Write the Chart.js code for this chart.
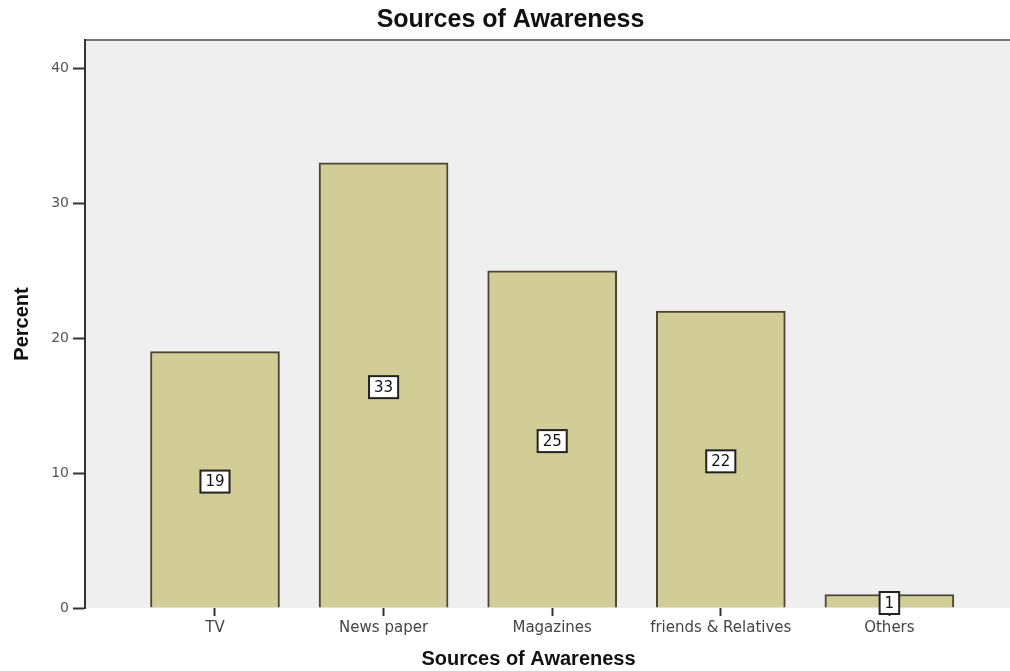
<!DOCTYPE html>
<html>
<head>
<meta charset="utf-8">
<title>Sources of Awareness</title>
<script src="https://cdn.jsdelivr.net/npm/chart.js@4.4.1/dist/chart.umd.min.js"></script>
<style>
  html, body { margin: 0; padding: 0; background: #ffffff; }
  canvas { display: block; }
</style>
</head>
<body>
<canvas id="chart" width="1010" height="671"></canvas>
<script>
// Survey results: share of respondents per source of awareness
const categories = ['TV', 'News paper', 'Magazines', 'friends & Relatives', 'Others'];
const percentValues = [19, 33, 25, 22, 1];
const yTickValues = [0, 10, 20, 30, 40];
const chartTitle = 'Sources of Awareness';

// Grey plot panel that runs out to the right edge, with a rule along its top,
// and the chart heading centred over the whole panel
const plotPanel = {
  id: 'plotPanel',
  beforeDraw(chart) {
    const { ctx, chartArea } = chart;
    ctx.save();
    ctx.fillStyle = '#efefef';
    ctx.fillRect(chartArea.left, chartArea.top, chart.width - chartArea.left, chartArea.bottom - chartArea.top);
    ctx.strokeStyle = '#777777';
    ctx.lineWidth = 2;
    ctx.beginPath();
    ctx.moveTo(chartArea.left, chartArea.top);
    ctx.lineTo(chart.width, chartArea.top);
    ctx.stroke();

    ctx.fillStyle = '#111111';
    ctx.font = 'bold 25px "Liberation Sans", Arial, sans-serif';
    ctx.textAlign = 'center';
    ctx.textBaseline = 'middle';
    ctx.fillText(chartTitle, (chartArea.left + chart.width) / 2 - 37, chartArea.top / 2);
    ctx.restore();
  }
};

// Boxed value label in the middle of each bar
const boxedLabels = {
  id: 'boxedLabels',
  afterDatasetsDraw(chart) {
    const { ctx } = chart;
    const meta = chart.getDatasetMeta(0);
    const values = chart.data.datasets[0].data;
    ctx.save();
    ctx.font = '15px "DejaVu Sans", sans-serif';
    ctx.textAlign = 'center';
    ctx.textBaseline = 'middle';
    meta.data.forEach((bar, i) => {
      const text = String(values[i].y);
      const cx = bar.x;
      const cy = (bar.y + bar.base) / 2 + 2;
      const w = ctx.measureText(text).width + 10;
      const h = 22;
      ctx.fillStyle = '#ffffff';
      ctx.fillRect(cx - w / 2, cy - h / 2, w, h);
      ctx.strokeStyle = '#222222';
      ctx.lineWidth = 2;
      ctx.strokeRect(cx - w / 2, cy - h / 2, w, h);
      ctx.fillStyle = '#111111';
      ctx.fillText(text, cx, cy + 1);
    });
    ctx.restore();
  }
};

new Chart(document.getElementById('chart'), {
  type: 'bar',
  data: {
    datasets: [{
      label: 'Percent',
      data: percentValues.map((v, i) => ({ x: i + 1, y: v })),
      backgroundColor: '#d2cd96',
      borderColor: '#4a4535',
      borderWidth: 2,
      borderSkipped: 'bottom',
      barThickness: 129
    }]
  },
  options: {
    responsive: false,
    animation: false,
    devicePixelRatio: 1,
    layout: { padding: { left: 0, right: 38, top: 40, bottom: 0 } },
    plugins: {
      legend: { display: false },
      tooltip: { enabled: false },
      title: { display: false }
    },
    scales: {
      x: {
        type: 'linear',
        min: 0.229,
        max: 5.49,
        offset: false,
        afterBuildTicks(scale) {
          scale.ticks = categories.map((_, i) => ({ value: i + 1 }));
        },
        afterFit(scale) { scale.height = 63; },
        border: { display: false },
        grid: { offset: false, drawOnChartArea: false, drawTicks: true, tickLength: 8, tickWidth: 2, color: '#333333' },
        ticks: {
          autoSkip: false,
          maxRotation: 0,
          padding: 3,
          color: '#444444',
          font: { family: '"DejaVu Sans", sans-serif', size: 15 },
          callback: (value) => categories[value - 1] ?? ''
        },
        title: {
          display: true,
          text: 'Sources of Awareness',
          color: '#111111',
          font: { family: '"Liberation Sans", Arial, sans-serif', size: 20, weight: 'bold', lineHeight: 1.2 },
          padding: { top: 0, bottom: 0 }
        }
      },
      y: {
        min: 0,
        max: 42.1,
        afterBuildTicks(scale) {
          scale.ticks = yTickValues.map(v => ({ value: v }));
        },
        afterFit(scale) { scale.width = 85; },
        border: { display: true, color: '#333333', width: 2 },
        grid: { drawOnChartArea: false, drawTicks: true, tickLength: 12, tickWidth: 2, color: '#333333' },
        ticks: {
          includeBounds: false,
          padding: 4,
          color: '#555555',
          font: { family: '"DejaVu Sans", sans-serif', size: 14 }
        },
        title: {
          display: true,
          text: 'Percent',
          color: '#111111',
          font: { family: '"Liberation Sans", Arial, sans-serif', size: 20, weight: 'bold', lineHeight: 1.2 },
          padding: { top: 10, bottom: 0 }
        }
      }
    }
  },
  plugins: [plotPanel, boxedLabels]
});
</script>
</body>
</html>
